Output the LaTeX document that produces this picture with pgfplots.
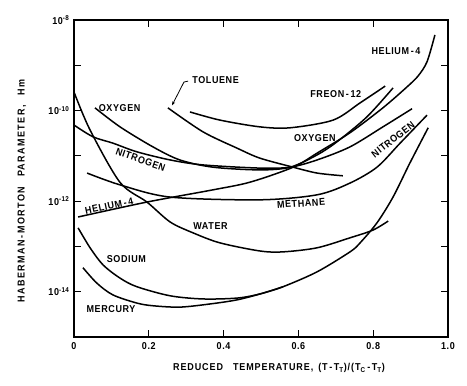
\documentclass[border=0pt]{standalone}
\usepackage{fontspec}
\usepackage{pgfplots}
\pgfplotsset{compat=1.18}
\usetikzlibrary{arrows.meta}
\newfontfamily\lett[LetterSpace=6, FakeStretch=0.9]{Liberation Sans}
\newfontfamily\lettw[LetterSpace=14, FakeStretch=0.9]{Liberation Sans}
\newfontfamily\lettx[LetterSpace=9, FakeStretch=0.9]{Liberation Sans}
\newcommand{\lf}{\lett\bfseries\fontsize{10}{11}\selectfont}
\begin{document}
\begin{tikzpicture}
\useasboundingbox (0,0) rectangle (467pt,386pt);
\begin{axis}[
  at={(74pt,49pt)}, anchor=south west, scale only axis,
  width=374pt, height=317pt,
  xmin=0, xmax=1, ymode=log, ymin=1e-15, ymax=1e-8,
  xtick={0,0.2,0.4,0.6,0.8,1.0},
  xticklabels={0,0.2,0.4,0.6,0.8,1.0},
  ytick={1e-14,1e-12,1e-10,1e-8},
  yticklabels={10\textsuperscript{-14},10\textsuperscript{-12},10\textsuperscript{-10},10\textsuperscript{-8}},
  minor ytick={1e-13,1e-11,1e-9},
  tick align=inside, major tick length=7pt, minor tick length=7pt,
  every tick/.style={black, line width=1pt},
  axis line style={line width=1.3pt},
  ticklabel style={font=\lf},
  xticklabel style={yshift=-2pt},
  yticklabel style={xshift=-1pt},
  xlabel={REDUCED\quad TEMPERATURE,\enspace (T\,-\,T\textsubscript{T})/(T\textsubscript{C}\,-\,T\textsubscript{T})},
  ylabel={HABERMAN\,-\,MORTON\quad PARAMETER\,,\quad Hm},
  xlabel style={font=\lettx\bfseries\fontsize{10}{11}\selectfont, at={(axis description cs:0.548,-0.098)}, anchor=center},
  ylabel style={font=\lettw\bfseries\fontsize{10}{11}\selectfont, at={(axis description cs:-0.139,0.461)}, anchor=center},
  clip=false,
]
\pgfplotsset{every axis plot/.append style={black, line width=1.5pt}}
% Water
\addplot[smooth] coordinates {(0,2.57e-10) (0.043,3.72e-11) (0.123,2.6e-12) (0.195,9.55e-13) (0.257,3.47e-13) (0.318,2.0e-13) (0.390,1.20e-13) (0.497,7.94e-14) (0.559,7.59e-14) (0.650,9.33e-14) (0.738,1.55e-13) (0.799,2.29e-13) (0.840,3.63e-13)};
% Helium-4
\addplot[smooth] coordinates {(0.011,4.47e-13) (0.195,9.55e-13) (0.372,1.78e-12) (0.471,2.63e-12) (0.586,5.62e-12) (0.650,1.15e-11) (0.738,3.24e-11) (0.826,1.15e-10) (0.890,3.31e-10) (0.920,5.8e-10) (0.944,1.2e-9) (0.965,4.68e-9)};
% Freon-12
\addplot[smooth] coordinates {(0.310,9.33e-11) (0.390,6.17e-11) (0.497,4.37e-11) (0.578,4.17e-11) (0.693,6.17e-11) (0.765,1.48e-10) (0.832,3.47e-10)};
% Oxygen
\addplot[smooth] coordinates {(0.056,1.15e-10) (0.123,4.37e-11) (0.211,1.58e-11) (0.283,8.13e-12) (0.372,5.62e-12) (0.497,4.90e-12) (0.578,5.62e-12) (0.650,1.05e-11) (0.703,2.04e-11) (0.783,7.24e-11) (0.853,3.16e-10)};
% Nitrogen
\addplot[smooth] coordinates {(0,4.79e-11) (0.051,2.63e-11) (0.104,1.91e-11) (0.168,1.23e-11) (0.257,8.13e-12) (0.345,6.31e-12) (0.497,5.37e-12) (0.578,5.62e-12) (0.650,8.13e-12) (0.738,1.58e-11) (0.826,4.37e-11) (0.904,1.10e-10)};
% Toluene
\addplot[smooth] coordinates {(0.251,1.15e-10) (0.345,3.39e-11) (0.436,1.48e-11) (0.497,8.91e-12) (0.586,5.62e-12) (0.650,4.17e-12) (0.719,3.63e-12)};
% Methane
\addplot[smooth] coordinates {(0.035,4.17e-12) (0.123,2.29e-12) (0.257,1.23e-12) (0.497,1.07e-12) (0.650,1.38e-12) (0.738,2.51e-12) (0.810,5.62e-12) (0.872,1.91e-11) (0.944,7.94e-11)};
% Sodium
\addplot[smooth] coordinates {(0.011,2.57e-13) (0.043,9.33e-14) (0.078,3.89e-14) (0.123,2.0e-14) (0.168,1.29e-14) (0.257,8.13e-15) (0.345,6.92e-15) (0.436,7.24e-15) (0.497,8.91e-15) (0.559,1.29e-14)};
% Mercury
\addplot[smooth] coordinates {(0.024,3.39e-14) (0.061,1.55e-14) (0.104,8.51e-15) (0.168,5.62e-15) (0.211,4.90e-15) (0.283,4.57e-15) (0.364,5.37e-15) (0.436,6.61e-15) (0.497,8.91e-15) (0.559,1.29e-14) (0.650,2.75e-14) (0.738,7.59e-14) (0.765,1.20e-13) (0.810,3.31e-13) (0.853,1.23e-12) (0.898,6.92e-12) (0.947,4.17e-11)};
% Toluene leader
\draw[black, line width=0.8pt, -{Stealth[length=4pt,width=3pt]}] (axis cs:0.305,4.47e-10) -- (axis cs:0.294,4.27e-10) -- (axis cs:0.262,1.30e-10);
% Labels
\begin{scope}[every node/.style={font=\lf, inner sep=0pt}]
\node at (axis cs:0.122,1.11e-10) {OXYGEN};
\node[anchor=west] at (axis cs:0.316,4.61e-10) {TOLUENE};
\node at (axis cs:0.700,2.32e-10) {FREON\,-\,12};
\node at (axis cs:0.861,2.02e-9) {HELIUM\,-\,4};
\node at (axis cs:0.644,2.42e-11) {OXYGEN};
\node[rotate=38] at (axis cs:0.853,2.3e-11) {NITROGEN};
\node[rotate=-19] at (axis cs:0.178,8.2e-12) {NITROGEN};
\node[rotate=12] at (axis cs:0.094,7.8e-13) {HELIUM\,-\,4};
\node[rotate=4] at (axis cs:0.607,8.9e-13) {METHANE};
\node at (axis cs:0.365,2.83e-13) {WATER};
\node at (axis cs:0.140,5.30e-14) {SODIUM};
\node at (axis cs:0.099,4.17e-15) {MERCURY};
\end{scope}
\end{axis}
\end{tikzpicture}
\end{document}
